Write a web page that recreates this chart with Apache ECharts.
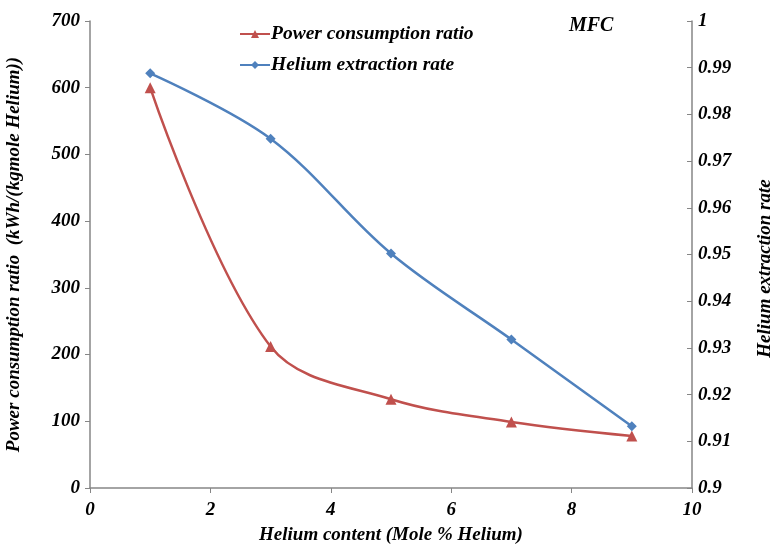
<!DOCTYPE html>
<html>
<head>
<meta charset="utf-8">
<script src="https://cdn.jsdelivr.net/npm/echarts@6.0.0/dist/echarts.min.js"></script>
<style>
  html, body { margin: 0; padding: 0; background: #fff; }
  #chart { width: 773px; height: 547px; }
</style>
</head>
<body>
<div id="chart"></div>
<script>
// helium content, mole %
const heliumContent = [1, 3, 5, 7, 9];
// kWh/(kgmole Helium)
const powerRatio = [600, 212, 133, 99, 78];
const extractionRate = [0.9888, 0.9748, 0.9502, 0.9318, 0.9132];

const font = "'Liberation Serif', 'DejaVu Serif', serif";
const axisGray = '#868686';

const labelStyle = {
    fontFamily: font,
    fontStyle: 'italic',
    fontWeight: 'bold',
    fontSize: 19,
    color: '#000'
};

const chart = echarts.init(document.getElementById('chart'));

const option = {
    animation: false,
    title: {
        text: 'MFC',
        left: 564,
        top: 11,
        textStyle: { fontFamily: font, fontStyle: 'italic', fontWeight: 'bold', fontSize: 20, color: '#000' }
    },
    legend: {
        orient: 'vertical',
        left: 234,
        top: 19,
        itemGap: 11,
        itemWidth: 30,
        itemHeight: 10,
        textStyle: { fontFamily: font, fontStyle: 'italic', fontWeight: 'bold', fontSize: 19.5, color: '#000', padding: [0, 0, 0, -4] },
        data: ['Power consumption ratio', 'Helium extraction rate']
    },
    grid: { left: 90, right: 81, top: 21, bottom: 59, outerBoundsMode: 'none' },
    xAxis: {
        type: 'value',
        min: 0, max: 10, interval: 2,
        name: 'Helium content (Mole % Helium)',
        nameLocation: 'middle',
        nameGap: 38,
        nameTextStyle: labelStyle,
        axisLine: { lineStyle: { color: axisGray, width: 1.5 } },
        axisTick: { show: true, length: 5, lineStyle: { color: axisGray } },
        axisLabel: Object.assign({ margin: 13 }, labelStyle),
        splitLine: { show: false }
    },
    yAxis: [{
        type: 'value',
        min: 0, max: 700, interval: 100,
        name: 'Power consumption ratio  (kWh/(kgmole Helium))',
        nameLocation: 'middle',
        nameRotate: 90,
        nameGap: 66,
        nameTextStyle: labelStyle,
        axisLine: { show: true, lineStyle: { color: axisGray, width: 1.5 } },
        axisTick: { show: true, length: 5, lineStyle: { color: axisGray } },
        axisLabel: Object.assign({ margin: 10 }, labelStyle),
        splitLine: { show: false }
    }, {
        type: 'value',
        position: 'right',
        min: 0.9, max: 1, interval: 0.01,
        name: 'Helium extraction rate',
        nameLocation: 'middle',
        nameRotate: 90,
        nameGap: 64,
        nameTextStyle: Object.assign({ padding: [0, 28, 0, 0] }, labelStyle),
        axisLine: { show: true, lineStyle: { color: axisGray, width: 1.5 } },
        axisTick: { show: true, inside: true, length: 5, lineStyle: { color: axisGray } },
        axisLabel: Object.assign({
            margin: 6,
            formatter: v => (Math.round(v * 100) / 100).toString()
        }, labelStyle),
        splitLine: { show: false }
    }],
    series: [{
        name: 'Power consumption ratio',
        type: 'line',
        yAxisIndex: 0,
        smooth: 0.35,
        symbol: 'triangle',
        symbolSize: 11,
        color: '#C0504D',
        lineStyle: { width: 2.5, color: '#C0504D' },
        itemStyle: { color: '#C0504D' },
        data: heliumContent.map((x, i) => [x, powerRatio[i]])
    }, {
        name: 'Helium extraction rate',
        type: 'line',
        yAxisIndex: 1,
        smooth: 0.35,
        symbol: 'diamond',
        symbolSize: 10,
        color: '#4F81BD',
        lineStyle: { width: 2.5, color: '#4F81BD' },
        itemStyle: { color: '#4F81BD' },
        data: heliumContent.map((x, i) => [x, extractionRate[i]])
    }]
};

chart.setOption(option);
</script>
</body>
</html>
